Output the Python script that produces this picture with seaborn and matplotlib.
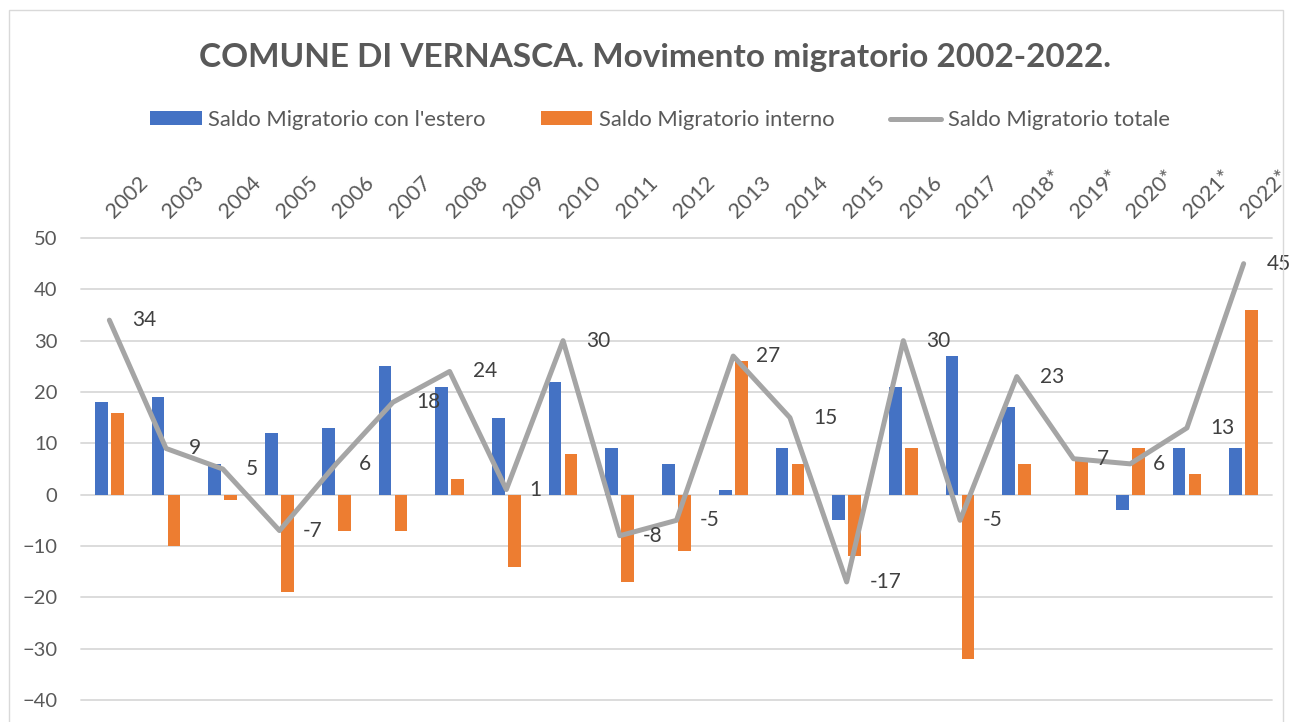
import matplotlib
matplotlib.use("Agg")
import matplotlib.pyplot as plt
from matplotlib.lines import Line2D
from matplotlib.patches import Patch, Rectangle
import numpy as np
import pandas as pd
import seaborn as sns

# Dati
anni = ["2002", "2003", "2004", "2005", "2006", "2007", "2008", "2009", "2010",
        "2011", "2012", "2013", "2014", "2015", "2016", "2017", "2018*",
        "2019*", "2020*", "2021*", "2022*"]
saldo_estero = [18, 19, 6, 12, 13, 25, 21, 15, 22, 9, 6, 1, 9, -5, 21, 27, 17, 0, -3, 9, 9]
saldo_interno = [16, -10, -1, -19, -7, -7, 3, -14, 8, -17, -11, 26, 6, -12, 9, -32, 6, 7, 9, 4, 36]
saldo_totale = [34, 9, 5, -7, 6, 18, 24, 1, 30, -8, -5, 27, 15, -17, 30, -5, 23, 7, 6, 13, 45]

serie_estero = "Saldo Migratorio con l'estero"
serie_interno = "Saldo Migratorio interno"
serie_totale = "Saldo Migratorio totale"

BLUE = "#4472C4"
ORANGE = "#ED7D31"
GREY = "#A5A5A5"
TEXT = "#595959"
GRID = "#D9D9D9"


def main():
    sns.set_style("white")
    plt.rcParams["font.family"] = ["Lato", "DejaVu Sans"]

    df = pd.DataFrame({
        "Anno": anni * 2,
        "Valore": saldo_estero + saldo_interno,
        "Serie": [serie_estero] * len(anni) + [serie_interno] * len(anni),
    })

    W, H = 1290, 722
    fig = plt.figure(figsize=(W / 100, H / 100), dpi=100)
    ax = fig.add_axes([81 / W, 1 - 700 / H, (1272 - 81) / W, (700 - 238) / H])

    sns.barplot(
        data=df, x="Anno", y="Valore", hue="Serie",
        order=anni, hue_order=[serie_estero, serie_interno],
        palette={serie_estero: BLUE, serie_interno: ORANGE}, saturation=1,
        width=0.56, gap=0.2, linewidth=0, errorbar=None, legend=False, ax=ax,
    )

    pos = np.arange(len(anni))
    sns.lineplot(x=pos, y=saldo_totale, ax=ax, color=GREY, linewidth=3.6,
                 sort=False, legend=False)
    for ln in ax.get_lines():
        ln.set_solid_joinstyle("round")
        ln.set_solid_capstyle("round")

    # etichette del totale
    for i, v in enumerate(saldo_totale):
        ax.annotate(str(v), xy=(i, v), xytext=(23, 0), textcoords="offset pixels",
                    ha="left", va="center", fontsize=15, color="#404040", zorder=5)

    ax.set_ylim(-40, 50)
    ax.set_yticks(range(-40, 51, 10))
    ax.set_xlim(-0.5, len(anni) - 0.5)
    ax.yaxis.grid(True, color=GRID, linewidth=1.3)
    ax.set_axisbelow(True)
    for gl in ax.get_ygridlines():
        gl.set_clip_on(False)
    for s in ax.spines.values():
        s.set_visible(False)

    ax.set_xlabel("")
    ax.set_ylabel("")
    ax.tick_params(axis="x", top=True, bottom=False, labeltop=True,
                   labelbottom=False, length=0, pad=17)
    ax.set_xticks(pos, labels=anni, rotation=45, ha="left", va="center",
                  rotation_mode="anchor", fontsize=15.5, color=TEXT)
    ax.tick_params(axis="y", length=0, pad=17, labelsize=14.5, labelcolor=TEXT)

    fig.text(655 / W, 1 - 57 / H, "COMUNE DI VERNASCA. Movimento migratorio 2002-2022.",
             ha="center", va="center", fontsize=24, fontweight="bold", color=TEXT)

    handles = [
        Patch(facecolor=BLUE, edgecolor="none"),
        Patch(facecolor=ORANGE, edgecolor="none"),
        Line2D([0], [0], color=GREY, linewidth=3.6, solid_capstyle="round"),
    ]
    fig.legend(handles, [serie_estero, serie_interno, serie_totale],
               loc="center", bbox_to_anchor=(660 / W, 1 - 120 / H), ncol=3,
               frameon=False, fontsize=15.8, labelcolor=TEXT,
               handlelength=2.35, handleheight=0.6, handletextpad=0.3,
               columnspacing=2.5)

    # cornice del grafico
    fig.add_artist(Rectangle((9 / W, -0.05), (1283 - 9) / W, 1.05 - 10 / H,
                             transform=fig.transFigure, fill=False,
                             edgecolor=GRID, linewidth=1))

    fig.savefig("out.png", dpi=100, facecolor="white")


if __name__ == "__main__":
    main()
